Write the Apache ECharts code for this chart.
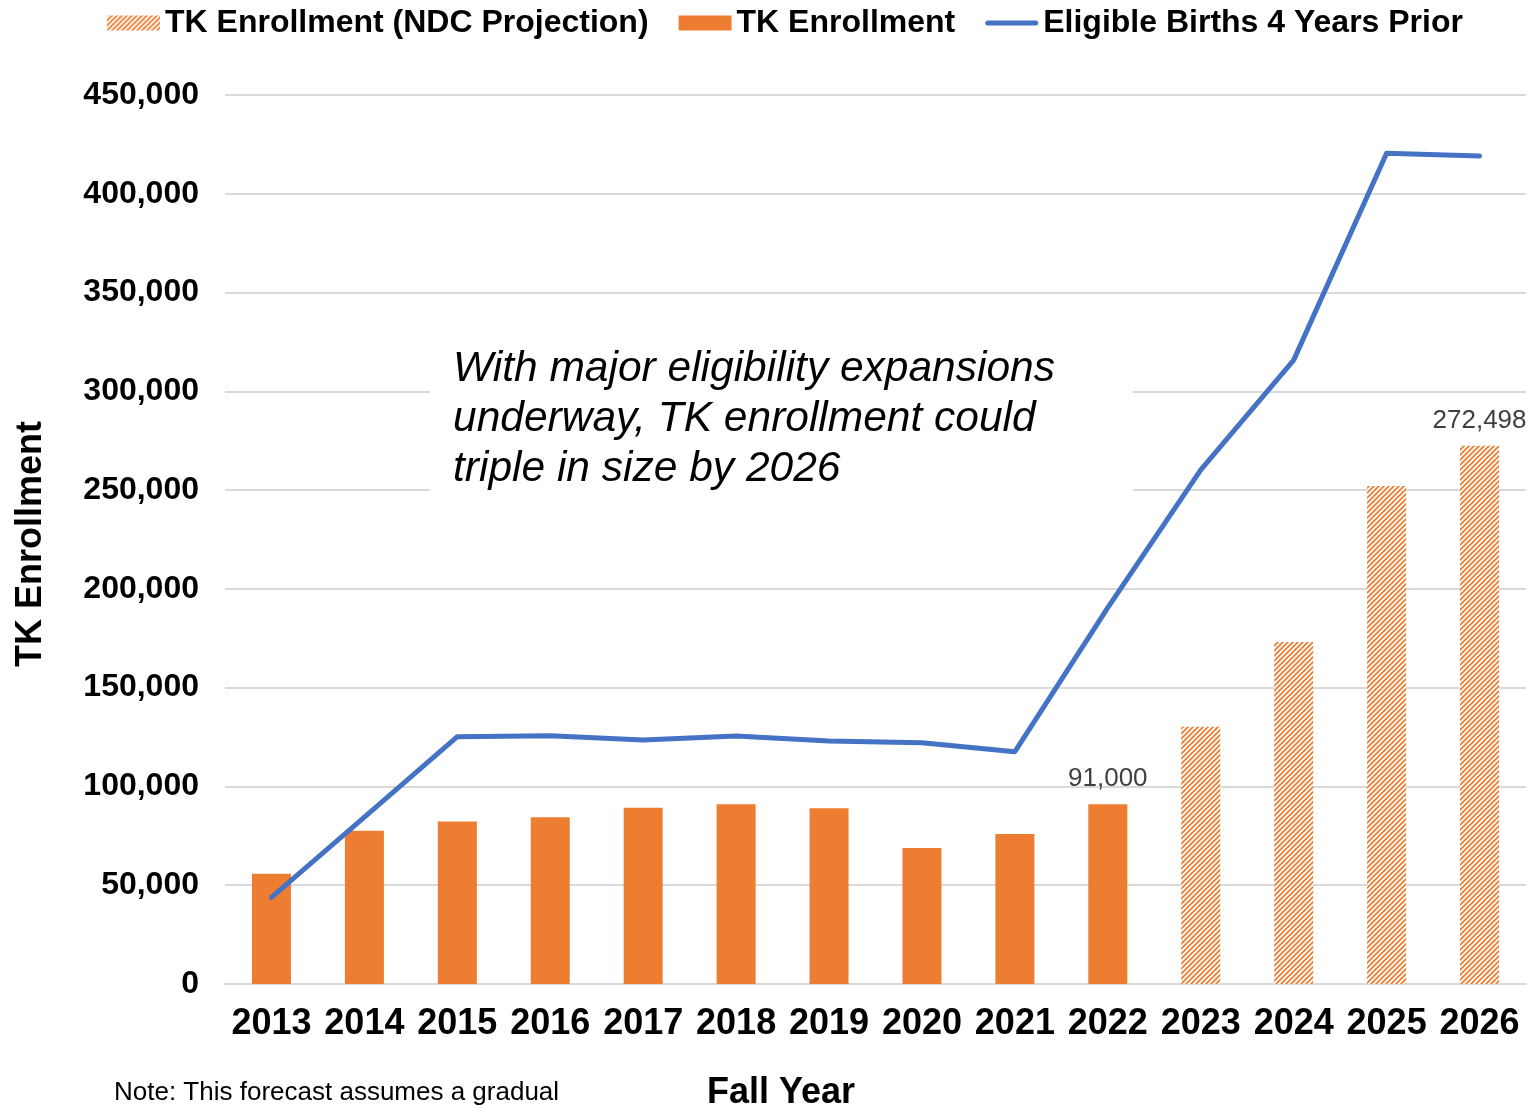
<!DOCTYPE html>
<html>
<head>
<meta charset="utf-8">
<title>TK Enrollment</title>
<script src="https://cdn.jsdelivr.net/npm/echarts@6/dist/echarts.min.js"></script>
<style>
  html, body { margin: 0; padding: 0; background: #ffffff; }
  #chart { width: 1540px; height: 1111px; }
</style>
</head>
<body>
<div id="chart"></div>
<script>
// Fall years on the category axis
const years = ['2013', '2014', '2015', '2016', '2017', '2018', '2019',
               '2020', '2021', '2022', '2023', '2024', '2025', '2026'];

// Actual TK enrollment, 2013–2022
const enrollment = [55800, 77600, 82200, 84400, 89200, 91000, 88900, 68800, 75900, 91000];

// Projected TK enrollment (NDC), 2023–2026
const projection = [130200, 173100, 252100, 272498];

// Eligible births four years prior
const births = [43900, 84500, 125200, 125700, 123500, 125500, 123000,
                122100, 117600, 190500, 260200, 315800, 420500, 419100];

// Value axis ticks
const yTicks = { min: 0, max: 450000, step: 50000 };

const ORANGE = '#ED7D31';
const BLUE = '#4472C4';
const FONT = '"Liberation Sans", Arial, Helvetica, sans-serif';

// Diagonal hatch used for the projected bars
function makeHatch() {
  const c = document.createElement('canvas');
  const s = 5;
  c.width = s; c.height = s;
  const g = c.getContext('2d');
  g.fillStyle = '#ffffff';
  g.fillRect(0, 0, s, s);
  g.strokeStyle = ORANGE;
  g.lineWidth = 1.8;
  g.beginPath();
  g.moveTo(0, s); g.lineTo(s, 0);
  g.moveTo(-1, 1); g.lineTo(1, -1);
  g.moveTo(s - 1, s + 1); g.lineTo(s + 1, s - 1);
  g.stroke();
  return c;
}
const hatch = { image: makeHatch(), repeat: 'repeat' };

// Bars are split across two series; each shows a value label on its last year
const actualData = years.map((y, i) => {
  if (i >= enrollment.length) return '-';
  const item = { value: enrollment[i] };
  if (i === enrollment.length - 1) item.label = { show: true };
  return item;
});
const offset = years.length - projection.length;
const projData = years.map((y, i) => {
  if (i < offset) return '-';
  const item = { value: projection[i - offset] };
  if (i === years.length - 1) item.label = { show: true };
  return item;
});

const valueLabel = {
  show: false,
  position: 'top',
  distance: 12,
  fontFamily: FONT,
  fontSize: 26,
  color: '#404040',
  formatter: p => Number(p.value).toLocaleString('en-US')
};

// Rounded stroke used as the legend key for the births line
const lineKey = 'path://M2.5,0 L50.5,0 A2.5,2.5 0 0 1 50.5,5 L2.5,5 A2.5,2.5 0 0 1 2.5,0 Z';

const chart = echarts.init(document.getElementById('chart'), null, { renderer: 'canvas' });

chart.setOption({
  backgroundColor: '#ffffff',
  animation: false,
  textStyle: { fontFamily: FONT },
  legend: {
    left: 102,
    top: 2,
    itemWidth: 53,
    itemHeight: 15,
    itemGap: 30,
    symbolKeepAspect: true,
    textStyle: { fontFamily: FONT, fontSize: 32, fontWeight: 'bold', color: '#000' },
    data: [
      { name: 'TK Enrollment (NDC Projection)', icon: 'rect' },
      { name: 'TK Enrollment', icon: 'rect' },
      { name: 'Eligible Births 4 Years Prior', icon: lineKey, itemStyle: { color: BLUE } }
    ]
  },
  grid: { left: 225, right: 14, top: 95, bottom: 127, containLabel: false },
  xAxis: {
    type: 'category',
    data: years,
    axisTick: { show: false },
    axisLine: { show: true, lineStyle: { color: '#D9D9D9', width: 2 } },
    axisLabel: {
      interval: 0,
      margin: 22,
      fontFamily: FONT,
      fontSize: 36,
      fontWeight: 'bold',
      color: '#000'
    }
  },
  yAxis: {
    type: 'value',
    min: yTicks.min,
    max: yTicks.max,
    interval: yTicks.step,
    axisLine: { show: false },
    axisTick: { show: false },
    splitLine: { lineStyle: { color: '#D9D9D9', width: 2 } },
    axisLabel: {
      margin: 26,
      fontFamily: FONT,
      fontSize: 32,
      fontWeight: 'bold',
      color: '#000',
      formatter: v => v.toLocaleString('en-US')
    }
  },
  series: [
    {
      name: 'TK Enrollment (NDC Projection)',
      type: 'bar',
      stack: 'tk',
      barWidth: 39,
      data: projData,
      itemStyle: { color: hatch },
      label: valueLabel,
      z: 2
    },
    {
      name: 'TK Enrollment',
      type: 'bar',
      stack: 'tk',
      barWidth: 39,
      data: actualData,
      itemStyle: { color: ORANGE },
      label: valueLabel,
      z: 2
    },
    {
      name: 'Eligible Births 4 Years Prior',
      type: 'line',
      data: births,
      symbol: 'none',
      smooth: false,
      lineStyle: { color: BLUE, width: 5, cap: 'round', join: 'round' },
      itemStyle: { color: BLUE },
      z: 4
    }
  ],
  graphic: [
    // Callout panel
    {
      type: 'rect',
      left: 430, top: 332,
      shape: { width: 703, height: 172 },
      style: { fill: '#ffffff' },
      z: 10
    },
    {
      type: 'text',
      left: 453, top: 344,
      style: {
        text: 'With major eligibility expansions\nunderway, TK enrollment could\ntriple in size by 2026',
        font: 'italic 42.5px ' + FONT,
        fill: '#000',
        lineHeight: 50
      },
      z: 11
    },
    // Axis titles
    {
      type: 'text',
      x: 781, y: 1093,
      style: {
        text: 'Fall Year',
        font: 'bold 36px ' + FONT,
        fill: '#000',
        align: 'center',
        verticalAlign: 'middle'
      },
      z: 11
    },
    {
      type: 'text',
      x: 31, y: 544,
      rotation: Math.PI / 2,
      style: {
        text: 'TK Enrollment',
        font: 'bold 36px ' + FONT,
        fill: '#000',
        align: 'center',
        verticalAlign: 'middle'
      },
      z: 11
    },
    // Footnote
    {
      type: 'text',
      x: 114, y: 1093,
      style: {
        text: 'Note: This forecast assumes a gradual',
        font: '26px ' + FONT,
        fill: '#000',
        align: 'left',
        verticalAlign: 'middle'
      },
      z: 11
    }
  ]
});
</script>
</body>
</html>
